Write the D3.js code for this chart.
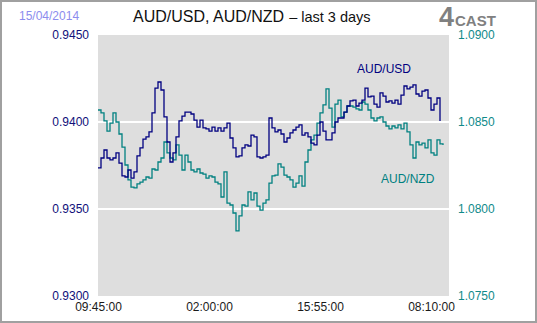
<!DOCTYPE html>
<html>
<head>
<meta charset="utf-8">
<script src="https://cdn.jsdelivr.net/npm/d3@7"></script>
<style>
  html, body { margin: 0; padding: 0; background: #ffffff; }
  svg { display: block; font-family: "Liberation Sans", Arial, sans-serif; }
</style>
</head>
<body>
<svg id="chart" width="537" height="323"></svg>
<script>
// AUD/USD and AUD/NZD, sampled at an even interval over the last three sessions
const audUsd = [
  0.93736, 0.93793, 0.93839, 0.93793, 0.93782, 0.93793, 0.93822, 0.93764, 0.93690, 0.93684,
  0.93724, 0.93678, 0.93713, 0.93805, 0.93851, 0.93902, 0.93914, 0.93943, 0.94052, 0.94195,
  0.94230, 0.94184, 0.94029, 0.93885, 0.93770, 0.93822, 0.93914, 0.94006, 0.94034, 0.94057,
  0.94057, 0.94046, 0.94011, 0.93971, 0.94011, 0.93966, 0.93960, 0.93948, 0.93971, 0.93948,
  0.93966, 0.93948, 0.93966, 0.93994, 0.93908, 0.93851, 0.93799, 0.93805, 0.93851, 0.93868,
  0.93862, 0.93925, 0.93914, 0.93799, 0.93793, 0.93799, 0.93810, 0.94023, 0.93966, 0.93943,
  0.93954, 0.93931, 0.93885, 0.93908, 0.93937, 0.93954, 0.93971, 0.93983, 0.93925, 0.93937,
  0.93914, 0.93879, 0.93868, 0.93925, 0.94000, 0.93948, 0.93897, 0.93897, 0.93937, 0.94000,
  0.94023, 0.94023, 0.94057, 0.94092, 0.94121, 0.94126, 0.94092, 0.94109, 0.94126, 0.94195,
  0.94144, 0.94149, 0.94103, 0.94086, 0.94167, 0.94149, 0.94115, 0.94121, 0.94109, 0.94126,
  0.94103, 0.94155, 0.94207, 0.94190, 0.94201, 0.94213, 0.94161, 0.94149, 0.94178, 0.94184,
  0.94138, 0.94069, 0.94103, 0.94138, 0.94006
];
const audNzd = [
  1.08569, 1.08552, 1.08506, 1.08448, 1.08494, 1.08552, 1.08500, 1.08431, 1.08356, 1.08253,
  1.08167, 1.08126, 1.08121, 1.08144, 1.08155, 1.08167, 1.08184, 1.08178, 1.08230, 1.08224,
  1.08270, 1.08293, 1.08385, 1.08322, 1.08293, 1.08282, 1.08368, 1.08310, 1.08224, 1.08310,
  1.08270, 1.08224, 1.08213, 1.08230, 1.08207, 1.08201, 1.08178, 1.08190, 1.08184, 1.08155,
  1.08144, 1.08069, 1.08213, 1.08034, 1.08023, 1.07977, 1.07874, 1.07960, 1.08023, 1.08017,
  1.08098, 1.08052, 1.08092, 1.08017, 1.07994, 1.08034, 1.08052, 1.08149, 1.08190, 1.08195,
  1.08259, 1.08241, 1.08195, 1.08184, 1.08167, 1.08126, 1.08149, 1.08190, 1.08132, 1.08270,
  1.08339, 1.08397, 1.08425, 1.08494, 1.08552, 1.08598, 1.08690, 1.08580, 1.08471, 1.08603,
  1.08626, 1.08529, 1.08557, 1.08592, 1.08592, 1.08586, 1.08575, 1.08569, 1.08615, 1.08603,
  1.08569, 1.08523, 1.08506, 1.08523, 1.08529, 1.08500, 1.08477, 1.08460, 1.08477, 1.08466,
  1.08483, 1.08460, 1.08494, 1.08443, 1.08368, 1.08293, 1.08385, 1.08368, 1.08379, 1.08351,
  1.08397, 1.08322, 1.08310, 1.08397, 1.08374, 1.08368
];
const timeLabels = ["09:45:00", "02:00:00", "15:55:00", "08:10:00"];
const timeLabelIndex = [0, 37, 74, 111];
const usdTicks = [0.9300, 0.9350, 0.9400, 0.9450];
const nzdTicks = [1.0750, 1.0800, 1.0850, 1.0900];
const dateText = "15/04/2014";

const svg = d3.select("#chart");
const W = 537, H = 323;
const plot = { left: 98, right: 449, top: 35, bottom: 296 };

// outer frame
svg.append("rect").attr("x", 1).attr("y", 1).attr("width", W - 2).attr("height", H - 2)
  .attr("fill", "#ffffff").attr("stroke", "#a0a0a0").attr("stroke-width", 2);

const x = d3.scaleLinear().domain([0, 117]).range([plot.left, plot.right]);
const yUsd = d3.scaleLinear().domain([0.930, 0.945]).range([plot.bottom, plot.top]);
const yNzd = d3.scaleLinear().domain([1.075, 1.090]).range([plot.bottom, plot.top]);

// plot background
svg.append("rect").attr("x", plot.left).attr("y", plot.top)
  .attr("width", plot.right - plot.left).attr("height", plot.bottom - plot.top)
  .attr("fill", "#dedede");

// horizontal grid
svg.append("g").selectAll("line").data([0.935, 0.940]).join("line")
  .attr("x1", plot.left).attr("x2", plot.right)
  .attr("y1", d => yUsd(d)).attr("y2", d => yUsd(d))
  .attr("stroke", "#ffffff").attr("stroke-width", 2);

// series lines
const lineUsd = d3.line().x((d, i) => x(i)).y(d => yUsd(d)).curve(d3.curveStepAfter);
const lineNzd = d3.line().x((d, i) => x(i)).y(d => yNzd(d)).curve(d3.curveStepAfter);

svg.append("path").datum(audNzd).attr("d", lineNzd)
  .attr("fill", "none").attr("stroke", "#008080").attr("stroke-width", 1.3);
svg.append("path").datum(audUsd).attr("d", lineUsd)
  .attr("fill", "none").attr("stroke", "#000080").attr("stroke-width", 1.3);

// axes
const axisFont = g => g.selectAll("text").attr("font-size", 12)
  .attr("font-family", "'Liberation Sans', Arial, sans-serif");

const left = svg.append("g").attr("transform", `translate(${plot.left},0)`)
  .call(d3.axisLeft(yUsd).tickValues(usdTicks).tickFormat(d3.format(".4f")).tickSize(0).tickPadding(9));
left.select(".domain").remove();
left.call(axisFont).selectAll("text").attr("fill", "#10107a");

const right = svg.append("g").attr("transform", `translate(${plot.right},0)`)
  .call(d3.axisRight(yNzd).tickValues(nzdTicks).tickFormat(d3.format(".4f")).tickSize(0).tickPadding(9));
right.select(".domain").remove();
right.call(axisFont).selectAll("text").attr("fill", "#108a8a");

const bottom = svg.append("g").attr("transform", `translate(0,${plot.bottom})`)
  .call(d3.axisBottom(x).tickValues(timeLabelIndex)
    .tickFormat((d, i) => timeLabels[i]).tickSize(0).tickPadding(6));
bottom.select(".domain").remove();
bottom.call(axisFont).selectAll("text").attr("fill", "#1a1a1a");

// series labels
svg.append("text").attr("x", 357).attr("y", 73).attr("font-size", 12)
  .attr("fill", "#000080").text("AUD/USD");
svg.append("text").attr("x", 381).attr("y", 183).attr("font-size", 12)
  .attr("fill", "#008080").text("AUD/NZD");

// header
svg.append("text").attr("x", 19).attr("y", 20).attr("font-size", 12)
  .attr("fill", "#8c8cee").text(dateText);

const title = svg.append("text").attr("x", 133).attr("y", 22).attr("fill", "#111111");
title.append("tspan").attr("font-size", 16).text("AUD/USD, AUD/NZD");
title.append("tspan").attr("font-size", 14.5).attr("dx", 5).text("– last 3 days");

const logo = svg.append("text").attr("x", 439).attr("y", 26).attr("fill", "#808080")
  .attr("font-weight", "bold");
logo.append("tspan").attr("font-size", 27).text("4");
logo.append("tspan").attr("font-size", 15).attr("dx", 1).text("CAST");
</script>
</body>
</html>
